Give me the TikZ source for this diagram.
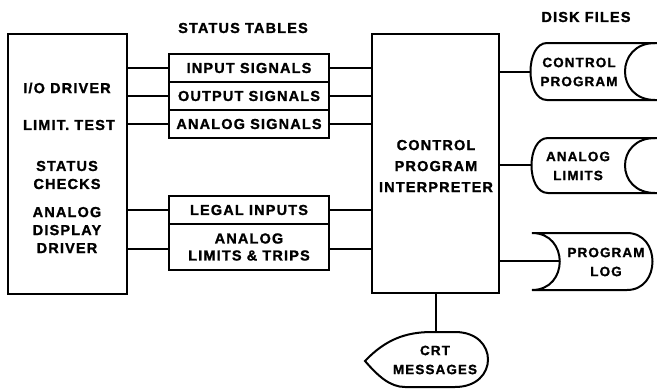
\documentclass[tikz,border=0pt]{standalone}
\usepackage{fontspec}
\setmainfont{Liberation Sans}[LetterSpace=8, BoldFeatures={FakeBold=1.3}]
\begin{document}
\begin{tikzpicture}[
    x=1pt, y=-1pt,
    line width=2pt,
    lbl/.style={font=\fontsize{14.5}{18}\selectfont\bfseries, align=center, inner sep=0pt},
    disklbl/.style={lbl, font=\fontsize{13.5}{19}\selectfont\bfseries},
    blk/.style={draw, inner sep=0pt},
    row/.style={draw, minimum width=160pt, inner sep=0pt, align=center,
                font=\fontsize{14.5}{17}\selectfont\bfseries},
  ]
  \useasboundingbox (0,0) rectangle (657,389);
  % headings
  \node[lbl] (tablehead) at (243, 28) {STATUS TABLES};
  \node[lbl] (diskhead) at (586, 17) {DISK FILES};
  % the driver block, left
  \node[blk, minimum width=119pt, minimum height=260pt] (driver) at (67.5, 164) {};
  \node[lbl] (iodrv) at (67, 88) {I/O DRIVER};
  \node[lbl] (limtest) at (69, 125) {LIMIT. TEST};
  \node[lbl] (statchk) at (67, 175) {STATUS\\CHECKS};
  \node[lbl] (anadisp) at (67, 230) {ANALOG\\DISPLAY\\DRIVER};
  % the status tables
  \node[row, minimum height=28pt] (insig) at (249, 68) {INPUT SIGNALS};
  \node[row, minimum height=28pt] (outsig) at (249, 96) {OUTPUT SIGNALS};
  \node[row, minimum height=28pt] (anasig) at (249, 124) {ANALOG SIGNALS};
  \node[row, minimum height=28pt] (legal) at (249, 210) {LEGAL INPUTS};
  \node[row, minimum height=46pt] (anatrip) at (249, 247) {ANALOG\\LIMITS \& TRIPS};
  % the interpreter
  \node[blk, minimum width=127pt, minimum height=259pt] (interp) at (435.5, 163.5) {};
  \node[lbl, font=\fontsize{14.5}{21}\selectfont\bfseries] (interptext) at (436, 166) {CONTROL\\PROGRAM\\INTERPRETER};
  % disk files
  \draw (657,43) -- (547,43) .. controls (525,43) and (525,100) .. (547,100) -- (657,100);
  \draw (655,43) .. controls (615,43) and (615,100) .. (655,100);
  \coordinate (ctlprog-in) at (530.5, 72);
  \node[disklbl] (ctlprog) at (579, 72) {CONTROL\\PROGRAM};
  \draw (657,138) -- (548,138) .. controls (526,138) and (526,193) .. (548,193) -- (657,193);
  \draw (655,138) .. controls (615,138) and (615,193) .. (655,193);
  \coordinate (anlim-in) at (531.5, 165);
  \node[disklbl] (anlim) at (578, 166) {ANALOG\\LIMITS};
  \draw (532,233) .. controls (569,233) and (569,290) .. (532,290)
    -- (627,290) .. controls (661,290) and (661,233) .. (627,233) -- cycle;
  \coordinate (proglog-in) at (560, 261);
  \node[disklbl] (proglog) at (606, 262) {PROGRAM\\LOG};
  % crt
  \draw (365,361) .. controls (385,340) and (405,332) .. (432,332) -- (455,332)
    .. controls (499,332) and (499,387) .. (455,387) -- (405,387)
    .. controls (390,387) and (378,376) .. (365,361) -- cycle;
  \coordinate (crt-in) at (435.5, 332);
  \node[disklbl] (crtmsg) at (435, 360) {CRT\\MESSAGES};
  % connectors
  \draw (insig.west -| driver.east) -- (insig.west);
  \draw (outsig.west -| driver.east) -- (outsig.west);
  \draw (anasig.west -| driver.east) -- (anasig.west);
  \draw (legal.west -| driver.east) -- (legal.west);
  \draw ([yshift=-2pt]anatrip.west -| driver.east) -- ([yshift=-2pt]anatrip.west);
  \draw (insig.east) -- (insig.east -| interp.west);
  \draw (outsig.east) -- (outsig.east -| interp.west);
  \draw (anasig.east) -- (anasig.east -| interp.west);
  \draw (legal.east) -- (legal.east -| interp.west);
  \draw ([yshift=-2pt]anatrip.east) -- ([yshift=-2pt]anatrip.east -| interp.west);
  \draw (ctlprog-in -| interp.east) -- (ctlprog-in);
  \draw (anlim-in -| interp.east) -- (anlim-in);
  \draw (proglog-in -| interp.east) -- (proglog-in);
  \draw (interp.south) -- (crt-in);
\end{tikzpicture}
\end{document}
